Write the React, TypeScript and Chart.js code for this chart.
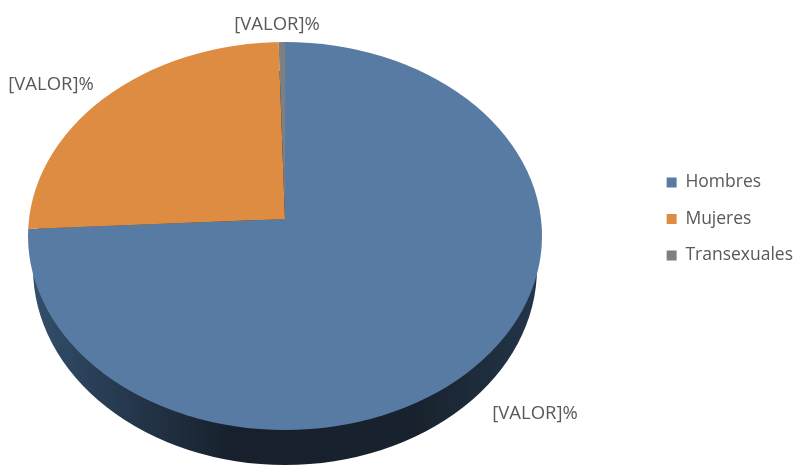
import React, { useEffect, useRef } from "react";
import { Chart, registerables } from "chart.js";

Chart.register(...registerables);

const categories = ["Hombres", "Mujeres", "Transexuales"];
const values = [74.25, 25.35, 0.4];
const sliceLabels = ["[VALOR]%", "[VALOR]%", "[VALOR]%"];
const colors = ["#587BA3", "#DF8C43", "#7F7F7F"];

const CENTER_X = 285;
const TOP_SCALE = 177 / 257;
const BOTTOM_SCALE = 211 / 257;
const OVERSCAN = 1.3;
const RIM_DY = 17;
const RIM_RY = 194;
const WALL_DY = 49;
const WALL_RX = 252;
const WALL_RY = 197;
const LABEL_OFFSETS = [[250, 195], [-234, -134], [-8, -194]];
const FONT = '"Open Sans", sans-serif';

const pie3d = {
  id: "pie3d",
  afterLayout(chart: any) {
    const a = chart.chartArea;
    a.left = 2 * CENTER_X - a.right;
    a.width = a.right - a.left;
  },
  beforeDatasetDraw(chart: any) {
    const ctx = chart.ctx;
    const arcs = chart.getDatasetMeta(0).data;
    const { x, y, outerRadius: r } = arcs[0].getProps(["x", "y", "outerRadius"], true);

    // side wall
    const g = ctx.createLinearGradient(x - r, 0, x + r, 0);
    g.addColorStop(0, "#34506C");
    g.addColorStop(0.12, "#2A4058");
    g.addColorStop(0.4, "#17202C");
    g.addColorStop(0.75, "#18222E");
    g.addColorStop(1, "#233649");
    ctx.save();
    ctx.fillStyle = g;
    ctx.beginPath();
    ctx.ellipse(x, y + WALL_DY, WALL_RX, WALL_RY, 0, 0, Math.PI * 2);
    ctx.fill();
    ctx.restore();

    // top face: slices fan out from the apex, the rim is a perspective ellipse
    const halves = [
      { from: 0, to: y + 0.5, s: TOP_SCALE },
      { from: y, to: chart.height, s: BOTTOM_SCALE },
    ];
    halves.forEach((h) => {
      ctx.save();
      ctx.beginPath();
      ctx.ellipse(x, y + RIM_DY, r, RIM_RY, 0, 0, Math.PI * 2);
      ctx.clip();
      ctx.beginPath();
      ctx.rect(0, h.from, chart.width, h.to - h.from);
      ctx.clip();
      ctx.translate(x, y);
      ctx.scale(OVERSCAN, OVERSCAN * h.s);
      ctx.translate(-x, -y);
      arcs.forEach((a: any) => a.draw(ctx));
      ctx.restore();
    });
    return false;
  },
  afterDatasetsDraw(chart: any) {
    const ctx = chart.ctx;
    const arcs = chart.getDatasetMeta(0).data;
    ctx.save();
    ctx.font = `18.5px ${FONT}`;
    ctx.fillStyle = "#595959";
    ctx.textAlign = "center";
    ctx.textBaseline = "middle";
    arcs.forEach((a: any, i: number) => {
      ctx.fillText(sliceLabels[i], a.x + LABEL_OFFSETS[i][0], a.y + LABEL_OFFSETS[i][1]);
    });
    ctx.restore();
  },
};

export default function App() {
  const ref = useRef<HTMLCanvasElement>(null);
  useEffect(() => {
    document.body.style.margin = "0";
    document.body.style.background = "#fff";
    const chart = new Chart(ref.current!, {
      type: "pie",
      data: {
        labels: categories,
        datasets: [{ data: values, backgroundColor: colors, borderWidth: 0 }],
      },
      options: {
        responsive: false,
        animation: false,
        radius: 257,
        layout: { padding: { left: 0, right: -8, top: 0, bottom: 27 } },
        plugins: {
          tooltip: { enabled: false },
          legend: {
            position: "right",
            labels: {
              boxWidth: 10,
              boxHeight: 10,
              padding: 19,
              color: "#595959",
              font: { family: FONT, size: 17.5 },
            },
          },
        },
      } as any,
      plugins: [pie3d],
    });
    return () => chart.destroy();
  }, []);
  return <canvas ref={ref} width={795} height={465} style={{ display: "block", width: 795, height: 465, filter: "blur(0.5px)" }} />;
}
